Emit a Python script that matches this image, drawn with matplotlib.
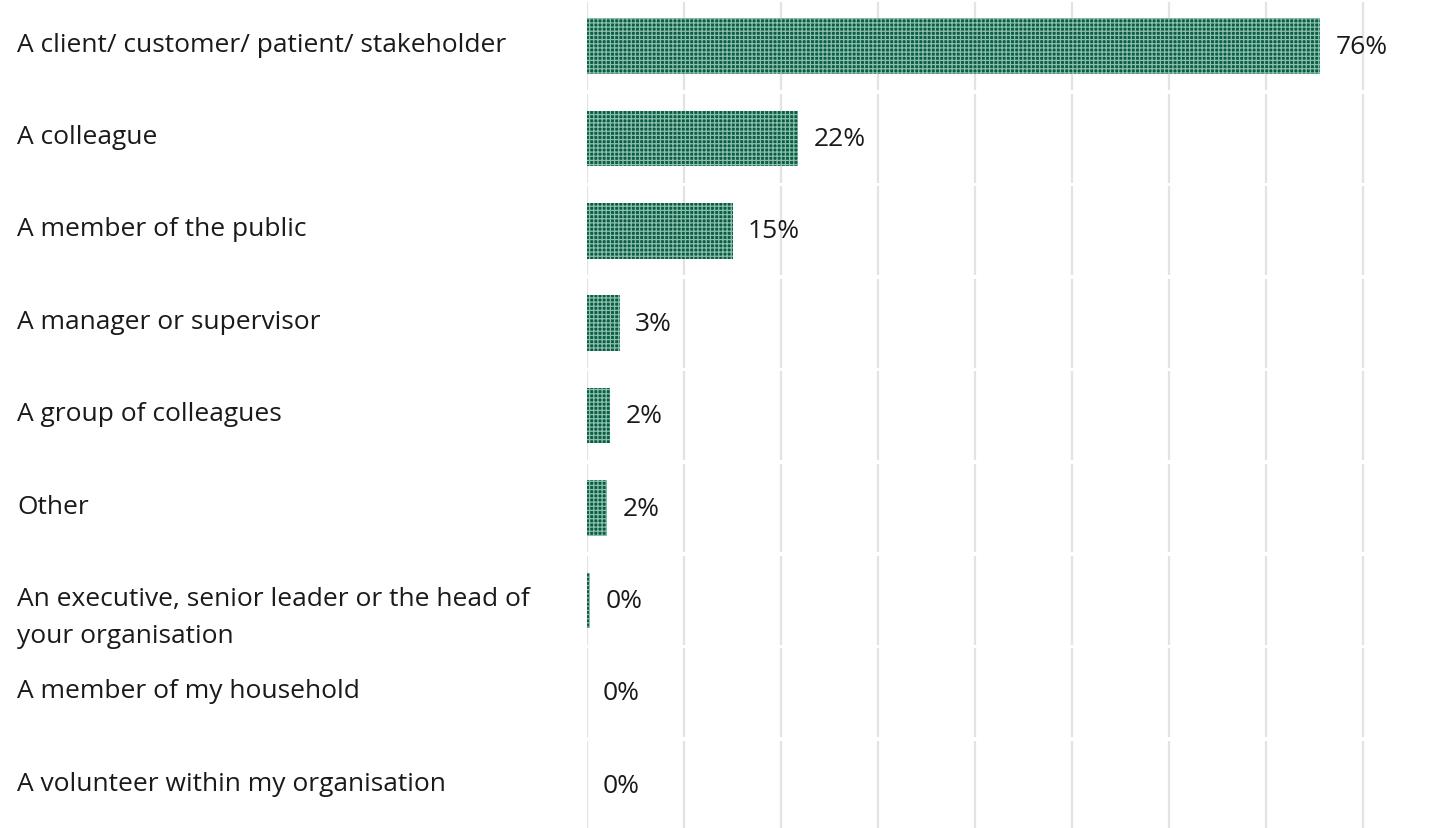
import matplotlib

matplotlib.use("Agg")
import matplotlib.pyplot as plt
from matplotlib.transforms import blended_transform_factory

categories = [
    "A client/ customer/ patient/ stakeholder",
    "A colleague",
    "A member of the public",
    "A manager or supervisor",
    "A group of colleagues",
    "Other",
    "An executive, senior leader or the head of\nyour organisation",
    "A member of my household",
    "A volunteer within my organisation",
]
values = [75.6, 21.8, 15.0, 3.4, 2.4, 2.1, 0.3, 0.0, 0.0]
value_labels = ["76%", "22%", "15%", "3%", "2%", "2%", "0%", "0%", "0%"]
gridlines = [0, 10, 20, 30, 40, 50, 60, 70, 80]

BAR = "#0b5c45"
HATCH = "#8abfac"
plt.rcParams["font.family"] = ["Open Sans", "DejaVu Sans"]
plt.rcParams["hatch.linewidth"] = 0.9

W, H = 1453, 829
ROW = 92.4  # px per row
fig = plt.figure(figsize=(W / 100, H / 100), dpi=100)
ax = fig.add_axes([587 / W, -3.4 / H, 866 / W, 9 * ROW / H])
ax.set_xlim(0, 866 / 9.7)
ax.set_ylim(len(categories) - 0.5, -0.5)
ax.axis("off")

# grid broken per row, like table cells
gap = 0.02
for i in range(len(categories)):
    ax.vlines(gridlines, i - 0.5 + gap, i + 0.5 - gap, color="#e3e3e3", lw=1.6, zorder=0)

ys = range(len(categories))
ax.barh(ys, values, height=0.6, color=BAR, hatch="++++", edgecolor=HATCH,
        linewidth=0, zorder=2)

for y, v, lab in zip(ys, values, value_labels):
    ax.annotate(lab, (v, y), xytext=(11, 0), textcoords="offset points",
                va="center", ha="left", fontsize=19, color="#1a1a1a")

tr = blended_transform_factory(fig.transFigure, ax.transData)
for y, cat in zip(ys, categories):
    for k, line in enumerate(cat.split("\n")):
        ax.text(17 / W, y + 0.05 + k * 0.40, line, transform=tr, ha="left",
                va="baseline", fontsize=19, color="#1a1a1a")

fig.savefig("out.png", dpi=100)
